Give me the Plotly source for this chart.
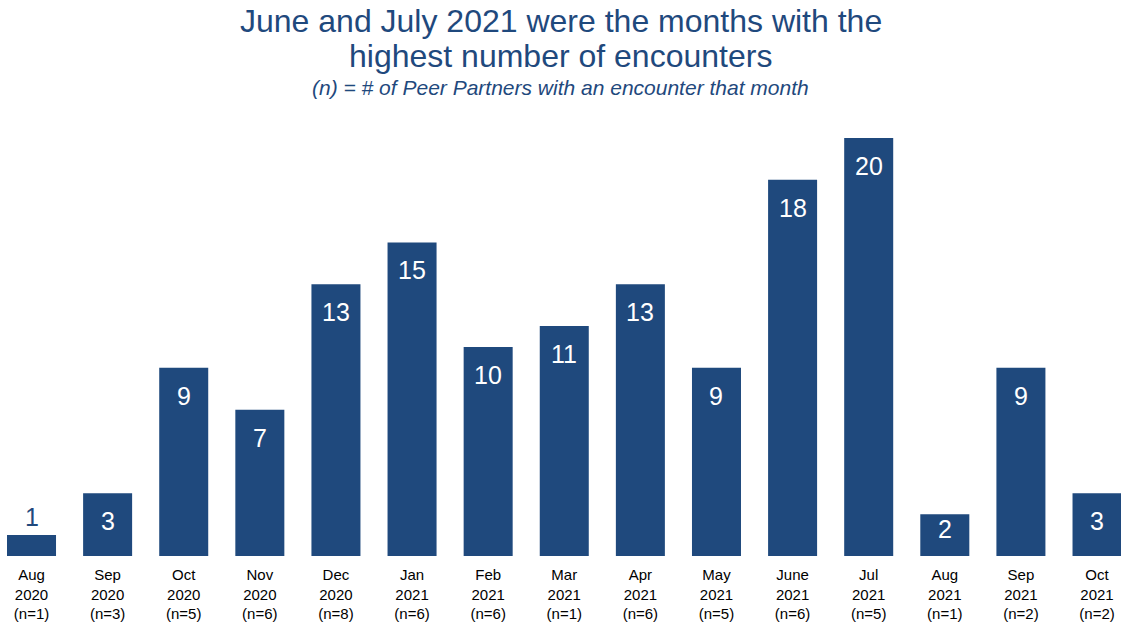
import plotly.graph_objects as go

months = ["Aug", "Sep", "Oct", "Nov", "Dec", "Jan", "Feb", "Mar", "Apr", "May", "June", "Jul", "Aug", "Sep", "Oct"]
years = ["2020", "2020", "2020", "2020", "2020", "2021", "2021", "2021", "2021", "2021", "2021", "2021", "2021", "2021", "2021"]
n_partners = [1, 3, 5, 6, 8, 6, 6, 1, 6, 5, 6, 5, 1, 2, 2]
encounters = [1, 3, 9, 7, 13, 15, 10, 11, 13, 9, 18, 20, 2, 9, 3]

BLUE = "#1F497D"
FONT = "Liberation Sans, Arial, sans-serif"

cats = list(range(len(months)))
ticktext = [f"{m}<br>{y}<br>(n={n})" for m, y, n in zip(months, years, n_partners)]

fig = go.Figure()
fig.add_trace(go.Bar(x=cats, y=encounters, marker=dict(color=BLUE, line=dict(width=0)),
                     hoverinfo="skip"))

annotations = []
for c, v in zip(cats, encounters):
    if v >= 2:
        annotations.append(dict(x=c, y=max(v - 1.34, 1.29), xref="x", yref="y", text=str(v),
                                showarrow=False, yanchor="middle",
                                font=dict(family=FONT, size=25, color="white")))
    else:
        annotations.append(dict(x=c, y=v, xref="x", yref="y", text=str(v),
                                showarrow=False, yanchor="bottom", yshift=2,
                                font=dict(family=FONT, size=25, color=BLUE)))

PLOT_TOP = 117
PLOT_H = 625 - 117 - 69


def py(px):
    return 1 + (PLOT_TOP - px) / PLOT_H


annotations.append(dict(x=0.5, y=py(21), xref="paper", yref="paper",
                        text="June and July 2021 were the months with the",
                        showarrow=False, xanchor="center", yanchor="middle",
                        font=dict(family=FONT, size=32, color=BLUE)))
annotations.append(dict(x=0.5, y=py(56), xref="paper", yref="paper",
                        text="highest number of encounters",
                        showarrow=False, xanchor="center", yanchor="middle",
                        font=dict(family=FONT, size=32, color=BLUE)))
annotations.append(dict(x=0.5, y=py(87), xref="paper", yref="paper",
                        text="<i>(n) = # of Peer Partners with an encounter that month</i>",
                        showarrow=False, xanchor="center", yanchor="middle",
                        font=dict(family=FONT, size=21, color=BLUE)))

fig.update_layout(
    width=1121, height=625,
    margin=dict(l=0, r=0, t=PLOT_TOP, b=69),
    paper_bgcolor="white", plot_bgcolor="white",
    bargap=0.356,
    showlegend=False,
    annotations=annotations,
    xaxis=dict(tickmode="array", tickvals=cats, ticktext=ticktext, range=[-0.414, 14.315],
               showgrid=False, zeroline=False, showline=False, ticks="",
               ticklabelstandoff=8,
               tickfont=dict(family=FONT, size=15, color="black")),
    yaxis=dict(range=[0, 21], visible=False, showgrid=False, zeroline=False),
)

fig.write_html("out.html")
